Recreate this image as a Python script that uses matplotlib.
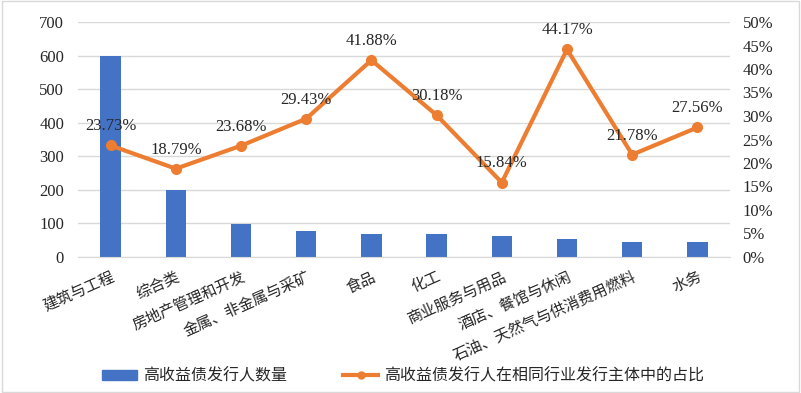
import matplotlib.pyplot as plt
from matplotlib.ticker import FuncFormatter
from matplotlib.patches import Rectangle

plt.rcParams['font.family'] = ['Liberation Serif', 'Noto Sans CJK SC']

categories = ['建筑与工程', '综合类', '房地产管理和开发', '金属、非金属与采矿', '食品',
              '化工', '商业服务与用品', '酒店、餐馆与休闲', '石油、天然气与供消费用燃料', '水务']
issuer_counts = [598, 200, 98, 78, 68, 68, 64, 54, 45, 44]
issuer_share = [23.73, 18.79, 23.68, 29.43, 41.88, 30.18, 15.84, 44.17, 21.78, 27.56]

BLUE = '#4472C4'
ORANGE = '#ED7D31'
TXT = '#262626'

fig = plt.figure(figsize=(8.01, 3.93), dpi=100)
ax = fig.add_axes([78 / 801, 1 - 257 / 393, 652 / 801, 235 / 393])
ax2 = ax.twinx()

x = list(range(len(categories)))
ax.bar(x, issuer_counts, width=0.31, color=BLUE, zorder=2)
ax.set_xlim(-0.5, len(categories) - 0.5)
ax.set_ylim(0, 700)
ax.set_yticks(range(0, 701, 100))
ax.grid(axis='y', color='#D9D9D9', linewidth=1, zorder=0)
ax.set_axisbelow(True)

ax2.plot(x, issuer_share, color=ORANGE, linewidth=3, marker='o', markersize=7, zorder=3)
ax2.set_ylim(0, 50)
ax2.set_yticks(range(0, 51, 5))
ax2.yaxis.set_major_formatter(FuncFormatter(lambda v, p: f'{int(v)}%'))

for xi, v in zip(x, issuer_share):
    ax2.annotate(f'{v:.2f}%', (xi, v), xytext=(0, 8), textcoords='offset points',
                 ha='center', va='bottom', fontsize=12, color=TXT)

for a in (ax, ax2):
    for s in a.spines.values():
        s.set_visible(False)
    a.tick_params(length=0, labelsize=12, colors=TXT)
ax.tick_params(axis='y', pad=10)
ax2.tick_params(axis='y', pad=9)
ax.spines['bottom'].set_visible(True)
ax.spines['bottom'].set_color('#D9D9D9')

ax.set_xticks(x)
ax.set_xticklabels(categories, rotation=24, ha='right', rotation_mode='anchor',
                   fontsize=11, family=['Noto Sans CJK SC'])
ax.tick_params(axis='x', pad=8)

handles = [Rectangle((0, 0), 1, 1, color=BLUE),
           plt.Line2D([], [], color=ORANGE, linewidth=3, marker='o', markersize=5)]
labels = ['高收益债发行人数量', '高收益债发行人在相同行业发行主体中的占比']
fig.legend(handles, labels, loc='center', bbox_to_anchor=(403 / 801, 1 - 376 / 393), ncol=2,
           frameon=False, prop={'family': 'Noto Sans CJK SC', 'size': 11.5},
           handlelength=2.2, handleheight=0.55, handletextpad=0.35, columnspacing=3.5,
           borderpad=0.2, labelcolor=TXT)

fig.patches.append(Rectangle((0.002, 0.003), 0.996, 0.994, transform=fig.transFigure,
                             fill=False, edgecolor='#D9D9D9', linewidth=1))

fig.savefig('out.png', dpi=100)
